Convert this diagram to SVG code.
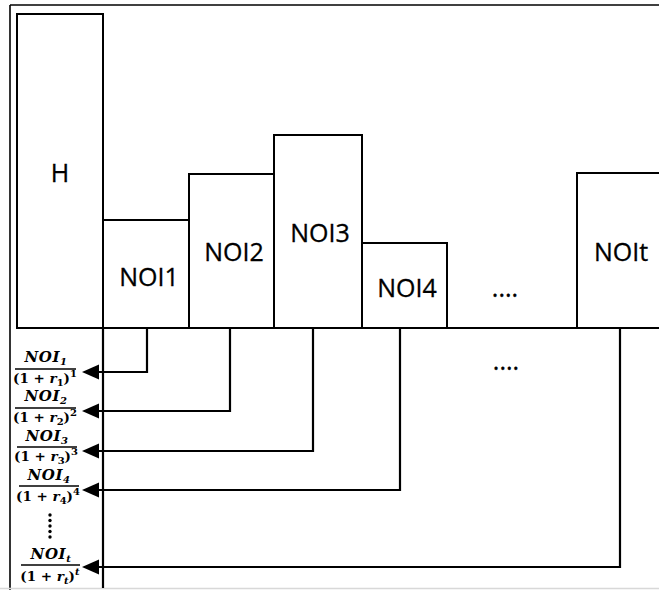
<svg xmlns="http://www.w3.org/2000/svg" width="659" height="590" viewBox="0 0 659 590">
<defs>
<style>
.box{fill:#fff;stroke:#000;stroke-width:2}
.lbl{font-family:"Open Sans","Liberation Sans",sans-serif;font-size:25px;text-anchor:middle;fill:#000;stroke:#000;stroke-width:0.3}
.conn{fill:none;stroke:#000;stroke-width:2.2}
.ah{fill:#000}
.num{font-family:"DejaVu Serif","Liberation Serif",serif;font-weight:bold;font-style:italic;font-size:15px;text-anchor:middle;letter-spacing:0.6px}
.den{font-family:"DejaVu Serif","Liberation Serif",serif;font-weight:bold;font-size:13.5px;text-anchor:middle}
.bar{stroke:#000;stroke-width:1.4}
.s{font-size:10px}
.i{font-style:italic}
</style>
</defs>
<rect x="0" y="0" width="659" height="590" fill="#fff"/>
<g id="frame">
<line x1="10" y1="5" x2="659" y2="5" stroke="#000" stroke-width="1.6"/>
<line x1="10" y1="5" x2="10" y2="590" stroke="#000" stroke-width="1.6"/>
<line x1="0" y1="588.5" x2="659" y2="588.5" stroke="#d8d8d8" stroke-width="1.5"/>
</g>
<g id="node-H"><rect class="box" x="17" y="14" width="86" height="314"/><text class="lbl" x="60" y="182" font-size="22">H</text></g>
<g id="node-NOI1"><rect class="box" x="103" y="220" width="86" height="108"/><text class="lbl" x="149" y="286">NOI1</text></g>
<g id="node-NOI2"><rect class="box" x="189" y="174" width="85" height="154"/><text class="lbl" x="234" y="261">NOI2</text></g>
<g id="node-NOI3"><rect class="box" x="274" y="135" width="88" height="193"/><text class="lbl" x="320" y="242">NOI3</text></g>
<g id="node-NOI4"><rect class="box" x="362" y="243" width="85" height="85"/><text class="lbl" x="407" y="297">NOI4</text></g>
<g id="node-dots"><text class="lbl" x="505" y="297" font-size="22">....</text></g>
<g id="node-NOIt"><rect class="box" x="577" y="173" width="90" height="155"/><text class="lbl" x="621" y="261">NOIt</text></g>
<g id="baseline"><line x1="17" y1="328" x2="659" y2="328" stroke="#000" stroke-width="2"/><line x1="103" y1="328" x2="103" y2="588" stroke="#000" stroke-width="2.2"/></g>
<g id="connectors">
<path class="conn" d="M147,328 V372 H96"/>
<path class="conn" d="M230,328 V411 H96"/>
<path class="conn" d="M313,328 V451 H96"/>
<path class="conn" d="M400,328 V490 H96"/>
<path class="conn" d="M620,328 V567 H96"/>
<polygon class="ah" points="82,372 99,364.5 99,379.5"/>
<polygon class="ah" points="82,411 99,403.5 99,418.5"/>
<polygon class="ah" points="82,451 99,443.5 99,458.5"/>
<polygon class="ah" points="82,490 99,482.5 99,497.5"/>
<polygon class="ah" points="82,567 99,559.5 99,574.5"/>
</g>
<g id="node-dots2"><text class="lbl" x="506" y="370" font-size="22">....</text></g>
<g id="frac-1">
<text class="num" x="46" y="362">NOI<tspan class="s" dy="3">1</tspan></text>
<line class="bar" x1="15" y1="369" x2="76" y2="369"/>
<text class="den" x="45" y="383">(1 + <tspan class="i">r</tspan><tspan class="s" dy="3">1</tspan><tspan dy="-3">)</tspan><tspan class="s" dy="-6">1</tspan></text>
</g>
<g id="frac-2">
<text class="num" x="46" y="401">NOI<tspan class="s" dy="3">2</tspan></text>
<line class="bar" x1="15" y1="408" x2="76" y2="408"/>
<text class="den" x="45" y="422">(1 + <tspan class="i">r</tspan><tspan class="s" dy="3">2</tspan><tspan dy="-3">)</tspan><tspan class="s" dy="-6">2</tspan></text>
</g>
<g id="frac-3">
<text class="num" x="47" y="441">NOI<tspan class="s" dy="3">3</tspan></text>
<line class="bar" x1="17" y1="447" x2="77" y2="447"/>
<text class="den" x="46" y="461">(1 + <tspan class="i">r</tspan><tspan class="s" dy="3">3</tspan><tspan dy="-3">)</tspan><tspan class="s" dy="-6">3</tspan></text>
</g>
<g id="frac-4">
<text class="num" x="49" y="480">NOI<tspan class="s" dy="3">4</tspan></text>
<line class="bar" x1="19" y1="486" x2="79" y2="486"/>
<text class="den" x="48" y="501">(1 + <tspan class="i">r</tspan><tspan class="s" dy="3">4</tspan><tspan dy="-3">)</tspan><tspan class="s" dy="-6">4</tspan></text>
</g>
<g id="vdots" fill="#000">
<circle cx="50" cy="515" r="1.7"/><circle cx="50" cy="520.5" r="1.7"/><circle cx="50" cy="526" r="1.7"/><circle cx="50" cy="531.5" r="1.7"/><circle cx="50" cy="537" r="1.7"/>
</g>
<g id="frac-t">
<text class="num" x="51" y="559">NOI<tspan class="s i" dy="3">t</tspan></text>
<line class="bar" x1="21" y1="565" x2="80" y2="565"/>
<text class="den" x="50" y="581">(1 + <tspan class="i">r</tspan><tspan class="s i" dy="3">t</tspan><tspan dy="-3">)</tspan><tspan class="s i" dy="-6">t</tspan></text>
</g>
</svg>
